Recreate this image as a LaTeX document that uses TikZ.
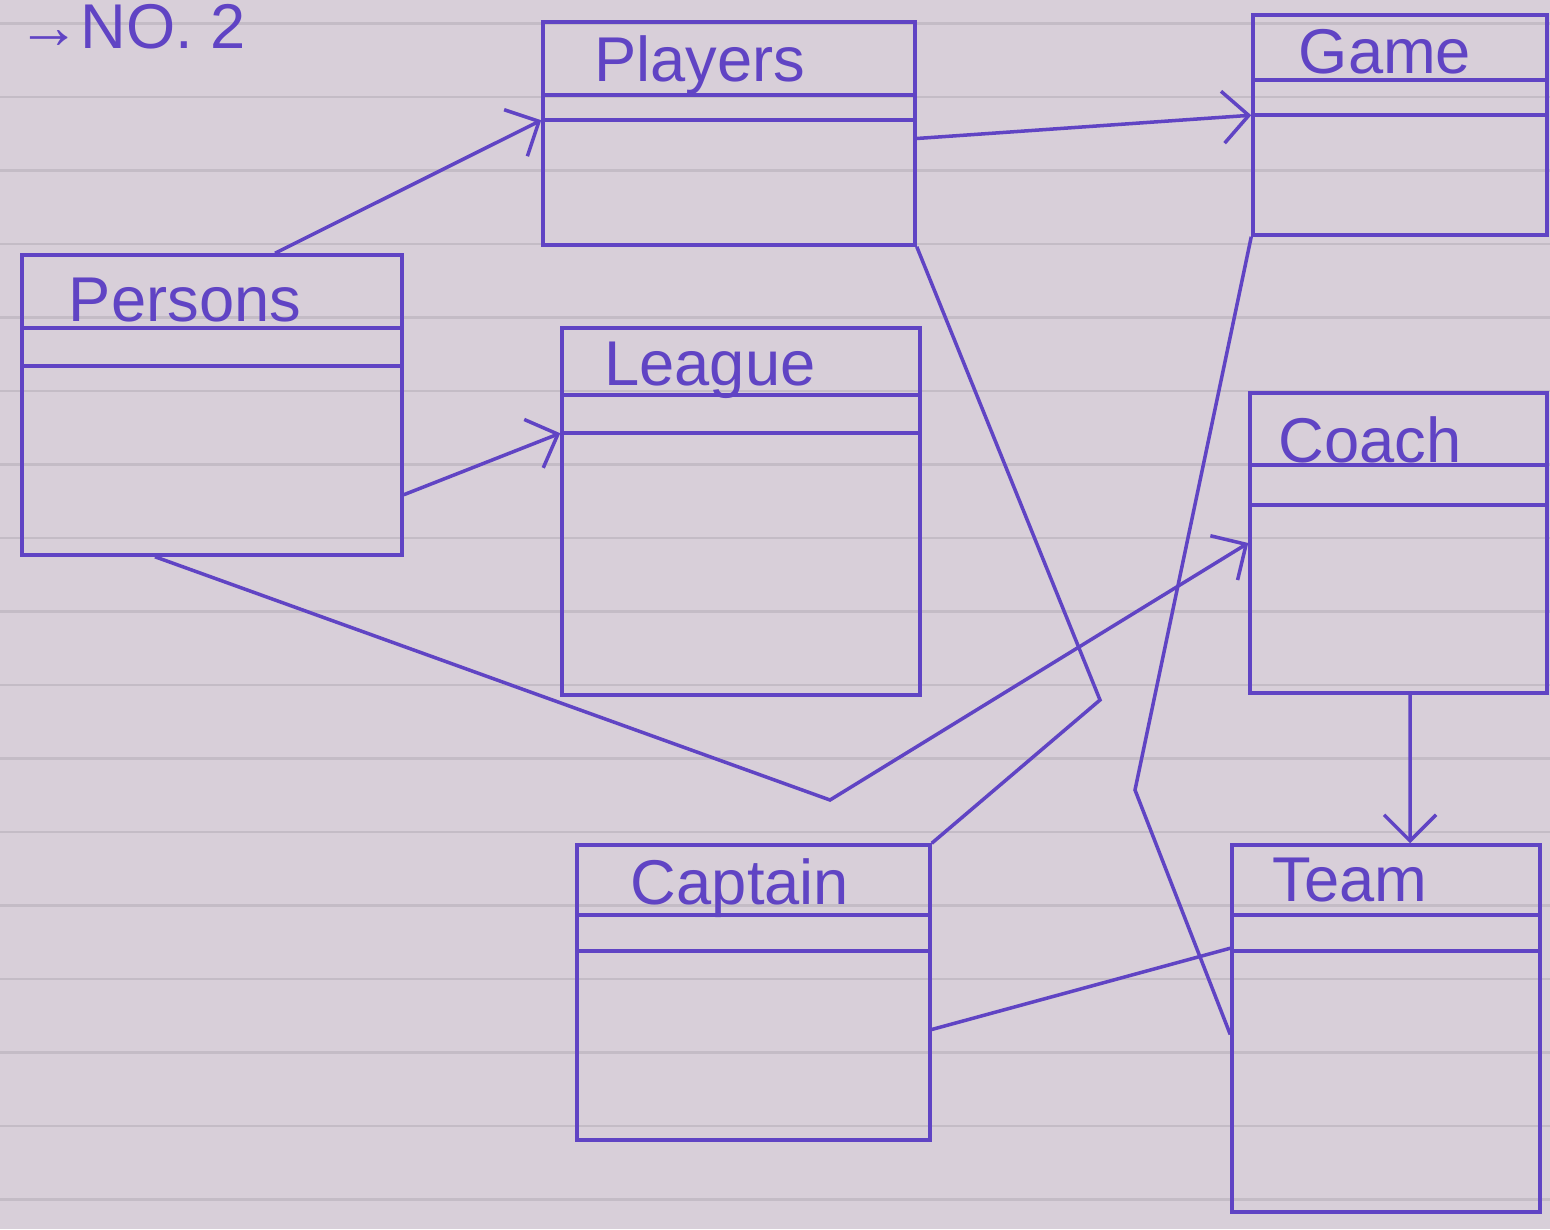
\documentclass[tikz,border=0pt]{standalone}
\usepackage{fontspec}
\setmainfont{Liberation Sans}
\usetikzlibrary{arrows.meta}
\definecolor{paper}{RGB}{216,207,217}
\definecolor{rulegray}{RGB}{196,188,198}
\definecolor{ink}{RGB}{96,68,196}

\begin{document}
\begin{tikzpicture}[
    cls/.style={rectangle, draw=ink, line width=1pt, inner sep=0pt},
    title/.style={text=ink, font=\fontsize{18}{20}\selectfont},
    arrow/.style={-{Straight Barb[length=2.6mm,width=5.2mm]}, draw=ink, line width=1pt},
    link/.style={draw=ink, line width=1pt}
]
\useasboundingbox (0,0) rectangle (15.5,12.29);

% Paper
\fill[paper] (0,0) rectangle (15.5,12.29);
\foreach \i in {0,...,16}
    \draw[rulegray, line width=0.8pt] (0,{12.055-0.735*\i}) -- (15.5,{12.055-0.735*\i});

\node[title, anchor=base west] (heading) at (0.05,11.80) {→NO. 2};

% Classes
\node[cls, minimum width=3.72cm, minimum height=2.23cm] (players) at (7.29,10.955) {};
\node[cls, minimum width=2.94cm, minimum height=2.20cm] (game) at (14.0,11.04) {};
\node[cls, minimum width=3.80cm, minimum height=3.00cm] (persons) at (2.12,8.24) {};
\node[cls, minimum width=3.58cm, minimum height=3.67cm] (league) at (7.41,7.175) {};
\node[cls, minimum width=2.97cm, minimum height=3.00cm] (coach) at (13.985,6.86) {};
\node[cls, minimum width=3.53cm, minimum height=2.95cm] (captain) at (7.535,2.365) {};
\node[cls, minimum width=3.08cm, minimum height=3.67cm] (team) at (13.86,2.005) {};

% Compartments
\foreach \n/\a/\b in {players/0.75/1.00, game/0.67/1.02, persons/0.75/1.13,
        league/0.69/1.07, coach/0.74/1.14, captain/0.72/1.08, team/0.72/1.08} {
    \draw[link] ([yshift=-\a cm]\n.north west) -- ([yshift=-\a cm]\n.north east);
    \draw[link] ([yshift=-\b cm]\n.north west) -- ([yshift=-\b cm]\n.north east);
}

% Names
\node[title] (players-t) at (7.0,11.64) {Players};
\node[title] (game-t) at (13.85,11.77) {Game};
\node[title] (persons-t) at (1.85,9.29) {Persons};
\node[title] (league-t) at (7.10,8.59) {League};
\node[title] (coach-t) at (13.70,7.89) {Coach};
\node[title] (captain-t) at (7.40,3.41) {Captain};
\node[title] (team-t) at (13.50,3.49) {Team};

% Links
\coordinate (bend1) at (8.30,4.29);
\coordinate (bend2) at (11.00,5.29);
\coordinate (bend3) at (11.35,4.39);

\draw[arrow] ([xshift=0.63cm]persons.north) -- ([yshift=-1.00cm]players.north west);
\draw[arrow] ([yshift=0.62cm]persons.south east) -- ([yshift=-1.07cm]league.north west);
\draw[arrow] ([xshift=-0.57cm]persons.south) -- (bend1) -- (coach.west);
\draw[arrow] ([yshift=-0.05cm]players.east) -- ([yshift=-1.02cm]game.north west);
\draw[link] (players.south east) -- (bend2) -- (captain.north east);
\draw[link] (game.south west) -- (bend3) -- ([yshift=-0.06cm]team.west);
\draw[arrow] ([xshift=0.115cm]coach.south) -- ([xshift=0.24cm]team.north);
\draw[link] ([yshift=-0.37cm]captain.east) -- ([yshift=-1.05cm]team.north west);

\end{tikzpicture}
\end{document}
